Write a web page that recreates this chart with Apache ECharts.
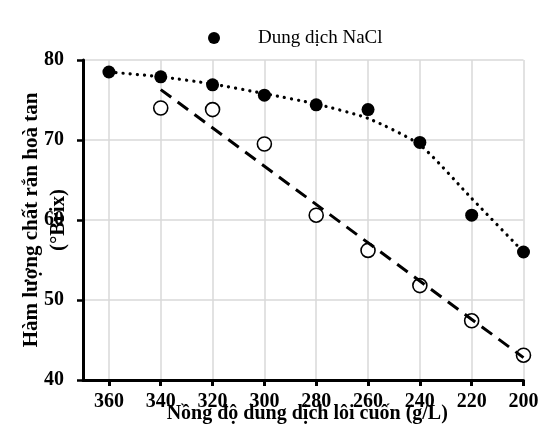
<!DOCTYPE html>
<html>
<head>
<meta charset="utf-8">
<script src="https://cdn.jsdelivr.net/npm/echarts@6/dist/echarts.min.js"></script>
<style>
html,body{margin:0;padding:0;background:#fff;}
#c{width:548px;height:432px;}
</style>
</head>
<body>
<div id="c"></div>
<script>
// Data
var xCategories = [360, 340, 320, 300, 280, 260, 240, 220, 200];
var naclValues = [78.5, 77.9, 76.9, 75.6, 74.4, 73.8, 69.7, 60.6, 56.0];
var openX = [340, 320, 300, 280, 260, 240, 220, 200];
var openValues = [74.0, 73.8, 69.5, 60.6, 56.2, 51.8, 47.4, 43.1];
var naclTrend = [78.5, 77.9, 77.0, 75.8, 74.5, 72.7, 69.4, 62.7, 56.0];
var openTrendX = [340, 200];
var openTrend = [76.3, 42.8];
var yTicks = [40, 50, 60, 70, 80];
var legendName = 'Dung dịch NaCl';
var xTitle = 'Nồng độ dung dịch lôi cuốn (g/L)';
var yTitle = 'Hàm lượng chất rắn hoà tan\n(°Brix)';

function pairs(xs, ys) { return xs.map(function (x, i) { return [x, ys[i]]; }); }

var serif = '"Liberation Serif","Times New Roman",serif';
var chart = echarts.init(document.getElementById('c'));
chart.setOption({
  animation: false,
  backgroundColor: '#ffffff',
  grid: { left: 83, right: 24.5, top: 60, bottom: 52, containLabel: false, outerBoundsMode: 'none' },
  legend: {
    data: [legendName],
    left: 203, top: 22,
    itemWidth: 12, itemHeight: 12,
    itemGap: 0,
    textStyle: { fontFamily: serif, fontSize: 19, color: '#000', padding: [0, 0, 0, 33], lineHeight: 22 }
  },
  xAxis: {
    type: 'value', inverse: true, min: 200, max: 370, interval: 20,
    name: xTitle, nameLocation: 'middle', nameGap: 24, nameMoveOverlap: false,
    nameTextStyle: { fontFamily: serif, fontSize: 20, fontWeight: 'bold', color: '#000', padding: [0, 0, 0, 8] },
    axisLine: { show: true, onZero: false, lineStyle: { color: '#000', width: 3 } },
    axisTick: { show: true, length: 6, customValues: xCategories, lineStyle: { color: '#000', width: 3 } },
    axisLabel: { customValues: xCategories, margin: 12, fontFamily: serif, fontSize: 20, fontWeight: 'bold', color: '#000' },
    splitLine: { show: true, lineStyle: { color: '#d9d9d9', width: 1.5 } }
  },
  yAxis: {
    type: 'value', min: 40, max: 80, interval: 10,
    name: yTitle, nameLocation: 'middle', nameGap: 11, nameRotate: 90, nameMoveOverlap: false,
    nameTextStyle: { fontFamily: serif, fontSize: 21, fontWeight: 'bold', color: '#000', lineHeight: 27 },
    axisLine: { show: true, lineStyle: { color: '#000', width: 3 } },
    axisTick: { show: true, length: 6, lineStyle: { color: '#000', width: 2.5 } },
    axisLabel: { customValues: yTicks, margin: 19, fontFamily: serif, fontSize: 20, fontWeight: 'bold', color: '#000' },
    splitLine: { show: true, lineStyle: { color: '#d9d9d9', width: 1.5 } }
  },
  series: [
    {
      name: 'trendNaCl', type: 'line', data: pairs(xCategories, naclTrend),
      smooth: 0.2, symbol: 'none', silent: true, z: 3,
      lineStyle: { color: '#000', width: 3.2, type: [0.1, 7], cap: 'round' }
    },
    {
      name: 'trendOpen', type: 'line', data: pairs(openTrendX, openTrend),
      symbol: 'none', silent: true, z: 3,
      lineStyle: { color: '#000', width: 3, type: [13, 8], cap: 'butt' }
    },
    {
      name: 'open', type: 'scatter', data: pairs(openX, openValues),
      symbol: 'circle', symbolSize: 14, z: 2,
      itemStyle: { color: '#fff', borderColor: '#000', borderWidth: 1.6, opacity: 1 }
    },
    {
      name: legendName, type: 'scatter', data: pairs(xCategories, naclValues),
      symbol: 'circle', symbolSize: 13, z: 2,
      itemStyle: { color: '#000', opacity: 1 }
    }
  ]
});
</script>
</body>
</html>
